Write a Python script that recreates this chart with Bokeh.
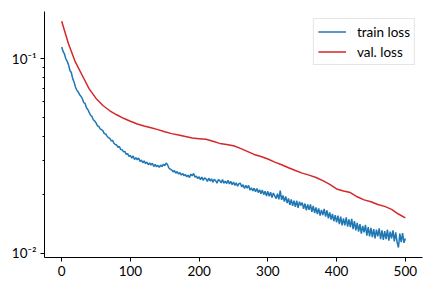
from bokeh.plotting import figure
from bokeh.models import Range1d, FixedTicker, Legend, LegendItem
from bokeh.embed import file_html
from bokeh.resources import INLINE

# ---- data ----
train_epochs = list(range(0, 501, 2))
train_loss = [
    0.115, 0.109, 0.106, 0.100, 0.097,
    0.093, 0.087, 0.085, 0.079, 0.076,
    0.0716, 0.069, 0.0675, 0.0655, 0.0640,
    0.0625, 0.0595, 0.0590, 0.0560, 0.0548,
    0.0530, 0.0512, 0.0505, 0.0486, 0.0478,
    0.0468, 0.0452, 0.0449, 0.0436, 0.0432,
    0.0426, 0.0412, 0.0410, 0.0400, 0.0392,
    0.0390, 0.0378, 0.0380, 0.0368, 0.0362,
    0.0360, 0.0350, 0.0354, 0.0341, 0.0340,
    0.0332, 0.0334, 0.0322, 0.0325, 0.0315,
    0.0318, 0.0308, 0.0316, 0.0303, 0.0310,
    0.0302, 0.0309, 0.0296, 0.0301, 0.0292,
    0.0298, 0.0289, 0.0294, 0.0285, 0.0291,
    0.0284, 0.0290, 0.0279, 0.0286, 0.0278,
    0.0283, 0.0276, 0.0284, 0.0279, 0.0287,
    0.0282, 0.0291, 0.0285, 0.0274, 0.0270,
    0.0268, 0.0262, 0.0266, 0.0258, 0.0263,
    0.0255, 0.0260, 0.0252, 0.0257, 0.0250,
    0.0254, 0.0247, 0.0252, 0.0245, 0.0255,
    0.0250, 0.0257, 0.0246, 0.0249, 0.0242,
    0.0247, 0.0239, 0.0246, 0.0237, 0.0244,
    0.0241, 0.0234, 0.0243, 0.0235, 0.0241,
    0.0232, 0.0240, 0.0236, 0.0229, 0.0239,
    0.0236, 0.0230, 0.0239, 0.0229, 0.0235,
    0.0228, 0.0237, 0.0227, 0.0234, 0.0225,
    0.0232, 0.0223, 0.0230, 0.0221, 0.0228,
    0.0229, 0.0219, 0.0225, 0.0215, 0.0223,
    0.0216, 0.0223, 0.0211, 0.0217, 0.0209,
    0.0216, 0.0207, 0.0215, 0.0205, 0.0212,
    0.0202, 0.0211, 0.0200, 0.0208, 0.0197,
    0.0208, 0.0196, 0.0206, 0.0193, 0.0204,
    0.0197, 0.0191, 0.0202, 0.0189, 0.0210,
    0.0188, 0.0198, 0.0184, 0.0196, 0.0181,
    0.0191, 0.0177, 0.0189, 0.0175, 0.0186,
    0.0173, 0.0186, 0.0171, 0.0184, 0.0176,
    0.0182, 0.0169, 0.0180, 0.0166, 0.0178,
    0.0167, 0.0178, 0.0163, 0.0175, 0.0161,
    0.0172, 0.0159, 0.0170, 0.0156, 0.0167,
    0.0157, 0.0169, 0.0154, 0.0166, 0.0151,
    0.0162, 0.0149, 0.0159, 0.0146, 0.0157,
    0.0144, 0.0156, 0.0141, 0.0154, 0.0139,
    0.0151, 0.0139, 0.0153, 0.0137, 0.0149,
    0.0136, 0.0150, 0.0133, 0.0146, 0.0131,
    0.0143, 0.0129, 0.0141, 0.0126, 0.0138,
    0.0128, 0.0140, 0.0123, 0.0136, 0.0122,
    0.0135, 0.0121, 0.0133, 0.0119, 0.0132,
    0.0122, 0.0134, 0.0118, 0.0131, 0.0117,
    0.0130, 0.0118, 0.0132, 0.0116, 0.0129,
    0.0119, 0.0131, 0.0115, 0.0128, 0.0114,
    0.0107, 0.0126, 0.0114, 0.0127, 0.0113,
    0.0119,
]

val_epochs = list(range(0, 501, 10))
val_loss = [
    0.156, 0.119, 0.096, 0.082, 0.0700, 0.0625, 0.0575, 0.0540, 0.0515, 0.0494,
    0.0477, 0.0462, 0.0451, 0.0442, 0.0432, 0.0421, 0.0412, 0.0405, 0.0398, 0.0391,
    0.0388, 0.0385, 0.0376, 0.0367, 0.0362, 0.0357, 0.0346, 0.0334, 0.0322, 0.0314,
    0.0305, 0.0294, 0.0285, 0.0275, 0.0266, 0.0258, 0.0252, 0.0245, 0.0236, 0.0226,
    0.0214, 0.0209, 0.0205, 0.0195, 0.0188, 0.0184, 0.0178, 0.0174, 0.0168, 0.0159,
    0.0152,
]

x_ticks = [0, 100, 200, 300, 400, 500]
y_ticks = [0.01, 0.1]
y_minor_ticks = [0.02, 0.03, 0.04, 0.05, 0.06, 0.07, 0.08, 0.09]
y_tick_labels = {0.01: "10\u207b\u00b2", 0.1: "10\u207b\u00b9"}
series_names = ["train loss", "val. loss"]
series_colors = ["#1f77b4", "#d62728"]

FONT = "Lato"
FONT_SIZE = "13.5px"

p = figure(width=432, height=288, y_axis_type="log",
           output_backend="svg", toolbar_location=None,
           x_range=Range1d(-25, 525), y_range=Range1d(0.0095, 0.175),
           min_border_left=44, min_border_right=10,
           min_border_top=11, min_border_bottom=31)

p.outline_line_color = None
p.xgrid.visible = False
p.ygrid.visible = False
p.background_fill_color = "white"
p.border_fill_color = "white"

r_train = p.line(train_epochs, train_loss, line_color=series_colors[0], line_width=1.5)
r_val = p.line(val_epochs, val_loss, line_color=series_colors[1], line_width=1.5)

xa = p.xaxis[0]
xa.ticker = FixedTicker(ticks=x_ticks, minor_ticks=[])
ya = p.yaxis[0]
ya.ticker = FixedTicker(ticks=y_ticks, minor_ticks=y_minor_ticks)
ya.major_label_overrides = y_tick_labels

for ax in (xa, ya):
    ax.axis_line_color = "black"
    ax.axis_line_width = 1
    ax.major_tick_line_color = "black"
    ax.minor_tick_line_color = "black"
    ax.major_tick_out = 4
    ax.major_tick_in = 0
    ax.minor_tick_out = 2
    ax.minor_tick_in = 0
    ax.major_label_text_font = FONT
    ax.major_label_text_font_size = FONT_SIZE
    ax.major_label_text_color = "black"
    ax.major_label_standoff = 4

legend = Legend(items=[LegendItem(label=series_names[0], renderers=[r_train]),
                       LegendItem(label=series_names[1], renderers=[r_val])],
                location="top_right")
legend.margin = 7
legend.padding = 4
legend.spacing = 3
legend.glyph_width = 28
legend.glyph_height = 17
legend.label_height = 17
legend.label_standoff = 11
legend.label_text_font = FONT
legend.label_text_font_size = FONT_SIZE
legend.label_text_color = "black"
legend.border_line_color = "#cccccc"
legend.border_line_width = 1
legend.background_fill_color = "white"
legend.background_fill_alpha = 0.8
p.add_layout(legend)

open("out.html", "w").write(file_html(p, INLINE))
